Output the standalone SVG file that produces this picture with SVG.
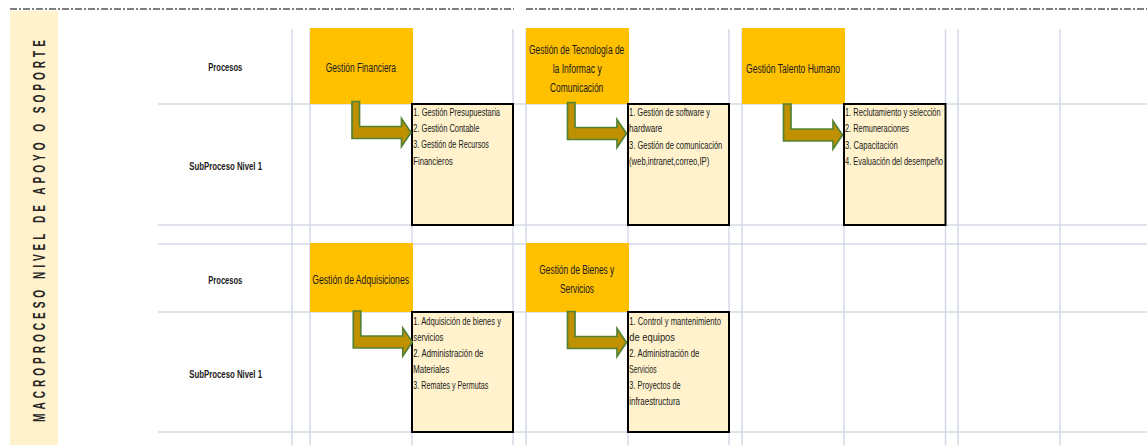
<svg xmlns="http://www.w3.org/2000/svg" width="1147" height="445" viewBox="0 0 1147 445">
<style>
text{font-family:"Liberation Sans",Arial,sans-serif;fill:#1a1a1a}
.grid line{stroke:#d3dae7;stroke-width:1.5}
.dash{stroke:#000;stroke-width:1;stroke-dasharray:7 2 2 2;fill:none}
.proc{fill:#ffc000}
.sub{fill:#fff2cc;stroke:#000;stroke-width:2}
.lbl{font-size:11px;font-weight:bold}
.pt{font-size:12px}
.st{font-size:10.5px}
.arrow{fill:#bf9000;stroke:#548235;stroke-width:1.7;stroke-linejoin:miter}
.side{font-size:16px;font-weight:bold;fill:#262626}
</style>
<rect width="1147" height="445" fill="#fff"/>
<line class="dash" x1="10" y1="9" x2="514" y2="9"/>
<line class="dash" x1="526" y1="9" x2="1147" y2="9"/>
<g id="side-label">
<rect x="10" y="11" width="48" height="434" fill="#fff2cc"/>
<text class="side" transform="translate(44.5,231) rotate(-90) scale(0.63,1)" text-anchor="middle" x="0" y="0" textLength="606" lengthAdjust="spacing">MACROPROCESO NIVEL DE APOYO O SOPORTE</text>
</g>
<g class="grid">
<line x1="292" y1="29" x2="292" y2="445"/>
<line x1="310" y1="29" x2="310" y2="445"/>
<line x1="412" y1="29" x2="412" y2="445"/>
<line x1="513" y1="29" x2="513" y2="445"/>
<line x1="526" y1="29" x2="526" y2="445"/>
<line x1="628" y1="29" x2="628" y2="445"/>
<line x1="729" y1="29" x2="729" y2="445"/>
<line x1="742" y1="29" x2="742" y2="445"/>
<line x1="844" y1="29" x2="844" y2="445"/>
<line x1="945.5" y1="29" x2="945.5" y2="445"/>
<line x1="958" y1="29" x2="958" y2="445"/>
<line x1="1060" y1="29" x2="1060" y2="445"/>
<line x1="158" y1="104" x2="1147" y2="104"/>
<line x1="158" y1="225" x2="1147" y2="225"/>
<line x1="158" y1="244" x2="1147" y2="244"/>
<line x1="158" y1="312" x2="1147" y2="312"/>
<line x1="158" y1="432" x2="1147" y2="432"/>
</g>
<g id="row-labels">
<text class="lbl" x="208.3" y="71" textLength="34" lengthAdjust="spacingAndGlyphs">Procesos</text>
<text class="lbl" x="189.3" y="169.5" textLength="72.7" lengthAdjust="spacingAndGlyphs">SubProceso Nivel 1</text>
<text class="lbl" x="208.3" y="283.5" textLength="34" lengthAdjust="spacingAndGlyphs">Procesos</text>
<text class="lbl" x="189.3" y="377.5" textLength="72.7" lengthAdjust="spacingAndGlyphs">SubProceso Nivel 1</text>
</g>
<g id="p-financiera">
<rect class="proc" x="310" y="28" width="103" height="76"/>
<text class="pt" x="325.7" y="72" textLength="70.3" lengthAdjust="spacingAndGlyphs">Gestión Financiera</text>
</g>
<g id="p-tecnologia">
<rect class="proc" x="526" y="28" width="103" height="76"/>
<text class="pt" x="529" y="53.5" textLength="95.3" lengthAdjust="spacingAndGlyphs">Gestión de Tecnología de</text>
<text class="pt" x="552.7" y="72.5" textLength="49" lengthAdjust="spacingAndGlyphs">la Informac y</text>
<text class="pt" x="550" y="91.5" textLength="53.3" lengthAdjust="spacingAndGlyphs">Comunicación</text>
</g>
<g id="p-talento">
<rect class="proc" x="742" y="28" width="103" height="76"/>
<text class="pt" x="746" y="72.5" textLength="94" lengthAdjust="spacingAndGlyphs">Gestión Talento Humano</text>
</g>
<g id="p-adquisiciones">
<rect class="proc" x="310" y="243" width="103" height="69"/>
<text class="pt" x="312.3" y="284" textLength="96.7" lengthAdjust="spacingAndGlyphs">Gestión de Adquisiciones</text>
</g>
<g id="p-bienes">
<rect class="proc" x="526" y="243" width="103" height="69"/>
<text class="pt" x="539.3" y="274.3" textLength="75" lengthAdjust="spacingAndGlyphs">Gestión de Bienes y</text>
<text class="pt" x="560" y="293.3" textLength="34" lengthAdjust="spacingAndGlyphs">Servicios</text>
</g>
<g id="s-financiera">
<rect class="sub" x="412" y="104" width="101" height="121"/>
<text class="st" x="413.3" y="116.3" textLength="86.7" lengthAdjust="spacingAndGlyphs">1. Gestión Presupuestaria</text>
<text class="st" x="413.3" y="132.3" textLength="66" lengthAdjust="spacingAndGlyphs">2. Gestión Contable</text>
<text class="st" x="413.3" y="148.3" textLength="75.7" lengthAdjust="spacingAndGlyphs">3. Gestión de Recursos</text>
<text class="st" x="413.3" y="164.5" textLength="39.4" lengthAdjust="spacingAndGlyphs">Financieros</text>
</g>
<g id="s-tecnologia">
<rect class="sub" x="628" y="104" width="101" height="121"/>
<text class="st" x="629" y="116" textLength="81" lengthAdjust="spacingAndGlyphs">1. Gestión de software y</text>
<text class="st" x="629" y="132" textLength="33.3" lengthAdjust="spacingAndGlyphs">hardware</text>
<text class="st" x="629" y="148.5" textLength="93.3" lengthAdjust="spacingAndGlyphs">3. Gestión de comunicación</text>
<text class="st" x="629" y="165" textLength="80.3" lengthAdjust="spacingAndGlyphs">(web,intranet,correo,IP)</text>
</g>
<g id="s-talento">
<rect class="sub" x="844" y="104" width="101.5" height="121"/>
<text class="st" x="845" y="116" textLength="95.7" lengthAdjust="spacingAndGlyphs">1. Reclutamiento y selección</text>
<text class="st" x="845" y="132" textLength="64" lengthAdjust="spacingAndGlyphs">2. Remuneraciones</text>
<text class="st" x="845" y="148.5" textLength="52.7" lengthAdjust="spacingAndGlyphs">3. Capacitación</text>
<text class="st" x="845" y="165" textLength="98" lengthAdjust="spacingAndGlyphs">4. Evaluación del desempeño</text>
</g>
<g id="s-adquisiciones">
<rect class="sub" x="412" y="312" width="101" height="120"/>
<text class="st" x="413.3" y="325" textLength="87.7" lengthAdjust="spacingAndGlyphs">1. Adquisición de bienes y</text>
<text class="st" x="413.3" y="340.8" textLength="30" lengthAdjust="spacingAndGlyphs">servicios</text>
<text class="st" x="413.3" y="356.8" textLength="70" lengthAdjust="spacingAndGlyphs">2. Administración de</text>
<text class="st" x="413.3" y="372.5" textLength="36" lengthAdjust="spacingAndGlyphs">Materiales</text>
<text class="st" x="413.3" y="388.5" textLength="75" lengthAdjust="spacingAndGlyphs">3. Remates y Permutas</text>
</g>
<g id="s-bienes">
<rect class="sub" x="628" y="312" width="101" height="120"/>
<text class="st" x="629.3" y="325" textLength="91.7" lengthAdjust="spacingAndGlyphs">1. Control y mantenimiento</text>
<text class="st" x="629.3" y="340.8" textLength="45.7" lengthAdjust="spacingAndGlyphs">de equipos</text>
<text class="st" x="629.3" y="356.8" textLength="70" lengthAdjust="spacingAndGlyphs">2. Administración de</text>
<text class="st" x="629.3" y="372.5" textLength="27.4" lengthAdjust="spacingAndGlyphs">Servicios</text>
<text class="st" x="629.3" y="388.5" textLength="51.4" lengthAdjust="spacingAndGlyphs">3. Proyectos de</text>
<text class="st" x="629.3" y="404.8" textLength="50.7" lengthAdjust="spacingAndGlyphs">infraestructura</text>
</g>
<g id="connectors">
<path class="arrow" d="M352,101.5 h7.5 v25 h42 v-8 l9.5,14 l-9.5,14 v-8 h-49.5 z"/>
<path class="arrow" d="M567.5,102.5 h7.5 v25 h42 v-8 l9.5,14 l-9.5,14 v-8 h-49.5 z"/>
<path class="arrow" d="M783.5,104 h7.5 v25 h42 v-8 l9.5,14 l-9.5,14 v-8 h-49.5 z"/>
<path class="arrow" d="M353.3,311 h7.5 v25 h42 v-8 l9.5,14 l-9.5,14 v-8 h-49.5 z"/>
<path class="arrow" d="M567.5,311.5 h7.5 v25 h42 v-8 l9.5,14 l-9.5,14 v-8 h-49.5 z"/>
</g>
</svg>
